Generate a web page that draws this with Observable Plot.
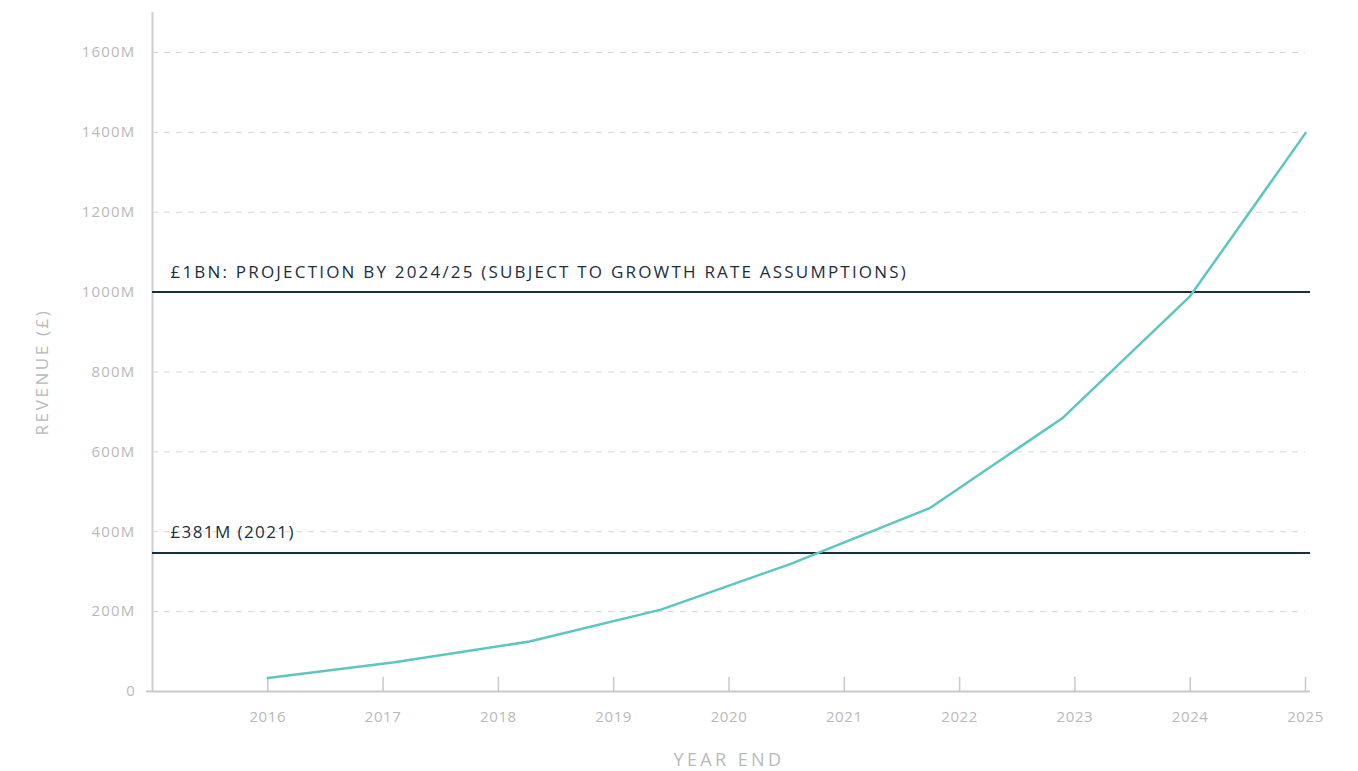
<!DOCTYPE html>
<html>
<head>
<meta charset="utf-8">
<script src="https://cdn.jsdelivr.net/npm/d3@7"></script>
<script src="https://cdn.jsdelivr.net/npm/@observablehq/plot@0.6"></script>
<style>
  html, body { margin: 0; padding: 0; background: #fff; }
  #chart svg { display: block; }
</style>
</head>
<body>
<div id="chart"></div>
<script>
// Data
const tickYears = [2016, 2017, 2018, 2019, 2020, 2021, 2022, 2023, 2024, 2025];
const yTicks = [0, 200, 400, 600, 800, 1000, 1200, 1400, 1600];
const lineX = [2016, 2017.1, 2018.27, 2019.41, 2020.53, 2021.74, 2022.89, 2024.0, 2025.0];
const revenue = [34, 73, 125, 205, 319, 459, 684, 990, 1398];
const targetValues = [1000, 347];
const targetLabels = ["£1BN: PROJECTION BY 2024/25 (SUBJECT TO GROWTH RATE ASSUMPTIONS)", "£381M (2021)"];
const yLabel = "REVENUE (£)";
const xLabel = "YEAR END";

const series = lineX.map((x, i) => ({x, v: revenue[i]}));
const targets = targetValues.map((v, i) => ({v, label: targetLabels[i]}));

const font = "'Open Sans', Lato, sans-serif";
const gray = "#b9b9b9";
const navy = "#1b2e3c";

const tickShape = { draw(context, l) { context.moveTo(0, 0); context.lineTo(0, -l); } };

const chart = Plot.plot({
  width: 1358,
  height: 771,
  marginLeft: 152,
  marginRight: 53,
  marginTop: 12,
  marginBottom: 80,
  style: { fontFamily: font, background: "#fff" },
  x: { domain: [2015, 2025] },
  y: { domain: [0, 1700] },
  marks: [
    Plot.gridY(yTicks.filter(d => d > 0), { stroke: "#d6d6d6", strokeOpacity: 1, strokeWidth: 1, strokeDasharray: "6,6" }),
    Plot.ruleX([2015], { stroke: "#cfcfcf", strokeWidth: 2 }),
    Plot.ruleY([0], { stroke: "#c9c9c9", strokeWidth: 2, insetLeft: -6, insetRight: -5 }),
    Plot.vector(tickYears, { x: d => d, y: 0, length: 14, anchor: "start", shape: tickShape, stroke: "#c9c9c9", strokeWidth: 1.5 }),
    Plot.axisX(tickYears, { tickSize: 0, tickPadding: 20, tickFormat: d => String(d), fill: gray, fontSize: 15, label: null }),
    Plot.axisY(yTicks, { tickSize: 0, tickPadding: 17, tickFormat: d => d === 0 ? "0" : d + "M", fill: gray, fontSize: 15, label: null }),
    Plot.ruleY(targets, { y: "v", stroke: navy, strokeWidth: 2, insetRight: -5 }),
    Plot.text(targets, { y: "v", x: 2015, text: "label", textAnchor: "start", dx: 18, dy: -20, fill: navy, fontSize: 17 }),
    Plot.line(series, { x: "x", y: "v", stroke: "#5cc6bf", strokeWidth: 2.5 }),
    Plot.text([yLabel], { frameAnchor: "left", textAnchor: "middle", rotate: -90, dx: -110, dy: 20, fill: gray, fontSize: 17 }),
    Plot.text([xLabel], { frameAnchor: "bottom", textAnchor: "middle", dy: 74, fill: gray, fontSize: 18 })
  ]
});

// letter-spacing styling (not a Plot text option)
const spacing = new Map([
  [targetLabels[0], "2.2px"],
  [targetLabels[1], "1.4px"],
  [yLabel, "2.6px"],
  [xLabel, "3.4px"]
]);
chart.querySelectorAll("text").forEach(t => {
  const s = t.textContent;
  if (spacing.has(s)) t.style.letterSpacing = spacing.get(s);
  else if (/^\d+M$/.test(s)) t.style.letterSpacing = "1.2px";
  else if (/^\d+$/.test(s)) t.style.letterSpacing = "0.6px";
});
document.getElementById("chart").appendChild(chart);
</script>
</body>
</html>
